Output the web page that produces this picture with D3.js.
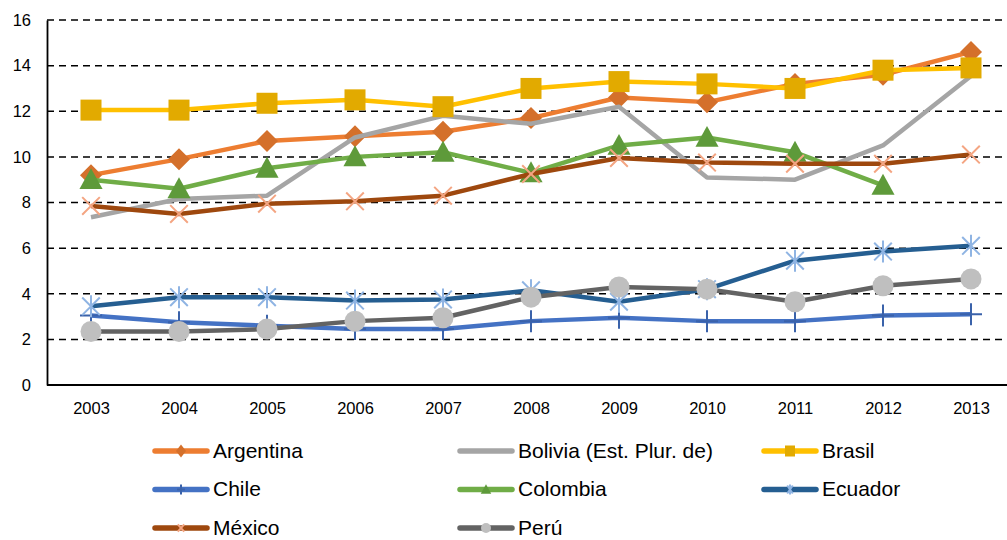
<!DOCTYPE html>
<html><head><meta charset="utf-8">
<script src="https://cdn.jsdelivr.net/npm/d3@7"></script>
<style>body{margin:0;background:#fff}svg{display:block;font-family:"Liberation Sans",Arial,sans-serif}</style>
</head><body><svg id="c" width="1007" height="540"></svg>
<script>
const years = ["2003","2004","2005","2006","2007","2008","2009","2010","2011","2012","2013"];
const yTicks = [0,2,4,6,8,10,12,14,16];
const argentina = [9.2,9.9,10.7,10.9,11.1,11.7,12.6,12.4,13.2,13.6,14.6];
const bolivia = [7.35,8.15,8.3,10.85,11.8,11.45,12.2,9.1,9.0,10.5,13.55];
const brasil = [12.05,12.05,12.35,12.5,12.2,13.0,13.3,13.2,13.0,13.8,13.9];
const chile = [3.05,2.75,2.6,2.45,2.45,2.8,2.95,2.8,2.8,3.05,3.1];
const colombia = [9.0,8.6,9.5,10.0,10.2,9.3,10.5,10.85,10.2,8.75,null];
const ecuador = [3.45,3.85,3.85,3.7,3.75,4.15,3.65,4.2,5.45,5.85,6.1];
const mexico = [7.85,7.5,7.95,8.05,8.3,9.25,9.95,9.75,9.7,9.7,10.1];
const peru = [2.35,2.35,2.45,2.8,2.95,3.85,4.3,4.2,3.65,4.35,4.65];
const names = ["Argentina","Bolivia (Est. Plur. de)","Brasil","Chile","Colombia","Ecuador","México","Perú"];

const series = [
 {name:names[0], v:argentina, line:"#ED7D31", mk:"diamond", mc:"#D4702B"},
 {name:names[1], v:bolivia, line:"#A5A5A5", mk:null, mc:null},
 {name:names[2], v:brasil, line:"#FFC000", mk:"square", mc:"#E2AA00"},
 {name:names[3], v:chile, line:"#4472C4", mk:"plus", mc:"#3A62AA"},
 {name:names[4], v:colombia, line:"#70AD47", mk:"triangle", mc:"#5E9A3A"},
 {name:names[5], v:ecuador, line:"#255E91", mk:"aster", mc:"#8FB4E3"},
 {name:names[6], v:mexico, line:"#9E480E", mk:"x", mc:"#F4A582"},
 {name:names[7], v:peru, line:"#636363", mk:"circle", mc:"#BFBFBF"}
];

const svg = d3.select("#c");
const x = d3.scalePoint().domain(years).range([91, 971]);
const y = d3.scaleLinear().domain([0,16]).range([385, 20]);
const left = 47, right = 1007;

// gridlines
svg.append("g").selectAll("line").data(yTicks.filter(t=>t>0)).join("line")
  .attr("x1", left).attr("x2", right).attr("y1", d=>y(d)).attr("y2", d=>y(d))
  .attr("stroke","#000").attr("stroke-width",1.5).attr("stroke-dasharray","7,5");

// y axis
const ya = svg.append("g").attr("transform",`translate(${left},0)`)
  .call(d3.axisLeft(y).tickValues(yTicks).tickSize(0).tickPadding(16));
ya.select(".domain").attr("stroke","#000").attr("stroke-width",1.8);
ya.selectAll("text").attr("font-size",16.5).attr("fill","#000").attr("font-family","Liberation Sans, Arial, sans-serif");

// x axis
const xa = svg.append("g").attr("transform",`translate(0,385)`)
  .call(d3.axisBottom(x).tickSize(0).tickPadding(17));
xa.select(".domain").attr("d",`M${left},0H${right}`).attr("stroke","#000").attr("stroke-width",1.8);
xa.selectAll("text").attr("font-size",16.5).attr("fill","#000").attr("font-family","Liberation Sans, Arial, sans-serif");

function marker(g, type, color, sx, sy){
  if(!type) return;
  if(sy==null) sy = sx;
  if(type==="diamond") g.append("path").attr("d",`M0,${-sy}L${sx},0L0,${sy}L${-sx},0Z`).attr("fill",color);
  else if(type==="square") g.append("rect").attr("x",-sx).attr("y",-sy).attr("width",2*sx).attr("height",2*sy).attr("fill",color);
  else if(type==="triangle") g.append("path").attr("d",`M0,${-sy*1.05}L${sx*1.05},${sy*0.85}L${-sx*1.05},${sy*0.85}Z`).attr("fill",color);
  else if(type==="circle") g.append("ellipse").attr("rx",sx).attr("ry",sy).attr("fill",color);
  else if(type==="plus") g.append("path").attr("d",`M0,${-sy}V${sy}M${-sx},0H${sx}`).attr("stroke",color).attr("stroke-width",2);
  else if(type==="x") g.append("path").attr("d",`M${-sx*0.8},${-sy*0.8}L${sx*0.8},${sy*0.8}M${-sx*0.8},${sy*0.8}L${sx*0.8},${-sy*0.8}`).attr("stroke",color).attr("stroke-width",2);
  else if(type==="aster") g.append("path").attr("d",`M0,${-sy}V${sy}M${-sx*0.8},${-sy*0.8}L${sx*0.8},${sy*0.8}M${-sx*0.8},${sy*0.8}L${sx*0.8},${-sy*0.8}`).attr("stroke",color).attr("stroke-width",2);
}

const line = d3.line().defined(d=>d.v!=null).x(d=>x(d.yr)).y(d=>y(d.v));
series.forEach(s=>{
  const pts = years.map((yr,i)=>({yr, v:s.v[i]}));
  const g = svg.append("g");
  g.append("path").datum(pts).attr("d",line).attr("fill","none")
    .attr("stroke",s.line).attr("stroke-width",4.5).attr("stroke-linejoin","round");
  pts.filter(p=>p.v!=null).forEach(p=>{
    const mg = g.append("g").attr("transform",`translate(${x(p.yr)},${y(p.v)})`);
    marker(mg, s.mk, s.mc, s.mk==="square"||s.mk==="circle"?10.5:11);
  });
});

// legend
const cols = [153, 458, 762], rows = [451, 489.5, 528];
series.forEach((s,i)=>{
  const cx = cols[i%3], cy = rows[Math.floor(i/3)];
  const g = svg.append("g").attr("transform",`translate(${cx},${cy})`);
  g.append("line").attr("x1",2).attr("x2",54).attr("y1",0).attr("y2",0)
    .attr("stroke",s.line).attr("stroke-width",5.5).attr("stroke-linecap","round");
  const mg = g.append("g").attr("transform","translate(28,0)");
  const sz = {diamond:[5,6.5], square:[5,5.5], triangle:[5,5], circle:[5,5], plus:[4,5], x:[4,4.5], aster:[3.5,5]}[s.mk];
  if(sz) marker(mg, s.mk, s.mc, sz[0], sz[1]);
  g.append("text").attr("x",60).attr("y",6.5).attr("font-size",21).attr("fill","#000").text(s.name);
});
</script></body></html>
